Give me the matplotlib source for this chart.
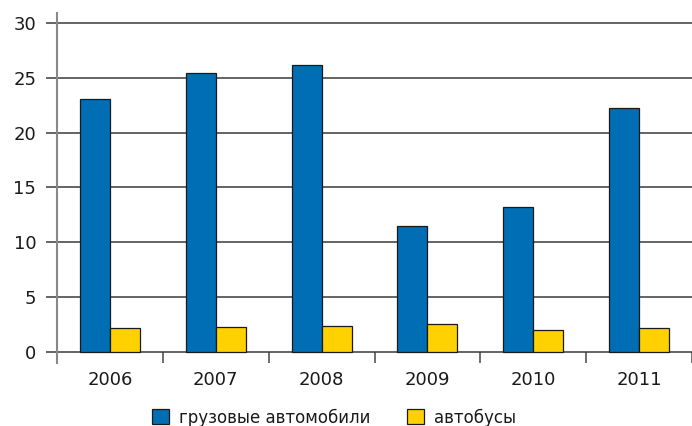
import matplotlib
matplotlib.use("Agg")
import matplotlib.pyplot as plt
import numpy as np

years = ["2006", "2007", "2008", "2009", "2010", "2011"]
trucks = [23.1, 25.4, 26.2, 11.45, 13.25, 22.2]
buses = [2.15, 2.25, 2.35, 2.6, 2.05, 2.2]
y_ticks = [0, 5, 10, 15, 20, 25, 30]

labels = ["грузовые автомобили", "автобусы"]
blue = "#006EB5"
yellow = "#FFD100"

plt.rcParams["font.family"] = ["DejaVu Sans"]

fig = plt.figure(figsize=(6.92, 4.26), dpi=100)
ax = fig.add_axes([57 / 692, 63 / 426, 635 / 692, 350 / 426])

x = np.arange(len(years))
w = 0.283
b1 = ax.bar(x - w, trucks, width=w, align="edge", color=blue,
            edgecolor="#1a1a1a", linewidth=0.9, zorder=3, label=labels[0])
b2 = ax.bar(x, buses, width=w, align="edge", color=yellow,
            edgecolor="#1a1a1a", linewidth=0.9, zorder=3, label=labels[1])

ax.set_xlim(-0.5, -0.5 + 635 / 107.1)
ax.set_ylim(-1.0, 30.9)

ax.set_yticks(y_ticks)
ax.set_yticklabels([str(v) for v in y_ticks])
ax.yaxis.grid(True, color="#3a3a3a", linewidth=1.1, zorder=1)
ax.set_axisbelow(True)

ax.set_xticks(x)
ax.set_xticklabels(years)
ax.set_xticks(np.arange(-0.5, len(years) + 0.5, 1.0), minor=True)
ax.tick_params(axis="x", which="major", length=0, pad=6, labelsize=13, labelcolor="#1a1a1a")
ax.tick_params(axis="x", which="minor", direction="in", length=8, width=1.2, color="#555555")
ax.tick_params(axis="y", direction="out", length=8, width=1.1, color="#3a3a3a",
               pad=7, labelsize=13, labelcolor="#1a1a1a")

for s in ["top", "right", "bottom"]:
    ax.spines[s].set_visible(False)
ax.spines["left"].set_color("#888888")
ax.spines["left"].set_linewidth(1.5)

fig.legend(handles=[b1, b2], labels=labels, loc="center", ncol=2,
           bbox_to_anchor=(0.483, 0.02), frameon=False, fontsize=12,
           handlelength=1.0, handleheight=1.0, handletextpad=0.6,
           columnspacing=2.2, labelcolor="#1a1a1a")

fig.savefig("out.png", dpi=100)
